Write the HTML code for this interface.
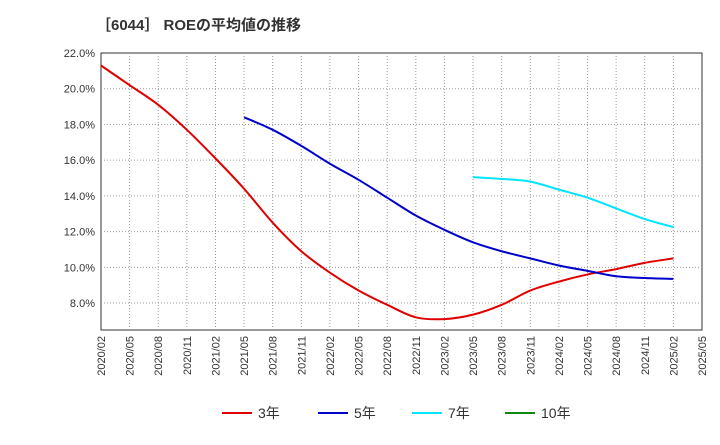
<!DOCTYPE html>
<html><head><meta charset="utf-8"><style>
body{margin:0;background:#fff;font-family:"Liberation Sans","Noto Sans CJK JP",sans-serif;}
</style></head><body>
<svg width="720" height="440" xmlns="http://www.w3.org/2000/svg">
<text x="96" y="30" font-size="15" font-weight="bold" fill="#333" font-family="Liberation Sans, Noto Sans CJK JP, sans-serif">［6044］ ROEの平均値の推移</text>
<g id="grid"></g><g id="axes"></g><g id="series"></g><g id="legend"></g>
</svg>
<script>
const xLabels=["2020/02","2020/05","2020/08","2020/11","2021/02","2021/05","2021/08","2021/11","2022/02","2022/05","2022/08","2022/11","2023/02","2023/05","2023/08","2023/11","2024/02","2024/05","2024/08","2024/11","2025/02","2025/05"];
const yTicks=[8,10,12,14,16,18,20,22];
const s3=[21.3,20.2,19.1,17.7,16.1,14.4,12.5,10.9,9.7,8.7,7.9,7.2,7.1,7.35,7.9,8.7,9.2,9.6,9.9,10.25,10.5];
const s5=[null,null,null,null,null,18.4,17.7,16.8,15.8,14.9,13.9,12.9,12.1,11.4,10.9,10.5,10.1,9.8,9.5,9.4,9.35];
const s7=[null,null,null,null,null,null,null,null,null,null,null,null,null,15.05,14.95,14.8,14.35,13.9,13.3,12.7,12.25];
const L=101,R=702,T=53,B=330,yMin=6.49,yMax=22;
const NS="http://www.w3.org/2000/svg";
const xs=i=>L+i*(R-L)/(xLabels.length-1);
const ys=v=>B-(v-yMin)/(yMax-yMin)*(B-T);
function mk(t,a,p){const e=document.createElementNS(NS,t);for(const k in a)e.setAttribute(k,a[k]);p.appendChild(e);return e;}
const g=document.getElementById('grid'),ax=document.getElementById('axes'),se=document.getElementById('series'),lg=document.getElementById('legend');
mk('rect',{x:L,y:T,width:R-L,height:B-T,fill:'#fff',stroke:'#333','stroke-width':1},g);
xLabels.forEach((lab,i)=>{const x=xs(i);
 if(i>0&&i<xLabels.length-1){const l=mk('line',{x1:x,x2:x,y1:T,y2:B,stroke:'#999','stroke-dasharray':'1,2'},g);
 }
 const t=mk('text',{x:0,y:0,'font-size':11,fill:'#333','text-anchor':'end',transform:`translate(${x+4},${B+6}) rotate(-90)`},ax);
 t.textContent=lab;});
yTicks.forEach(v=>{const y=ys(v);
 if(v<22){const l=mk('line',{x1:L,x2:R,y1:y,y2:y,stroke:'#999','stroke-dasharray':'1,2'},g);
 }
 const t=mk('text',{x:L-6,y:y+4,'font-size':11,fill:'#333','text-anchor':'end'},ax);
 t.textContent=v.toFixed(1)+'%';});
function line(arr,color,name){const pts=[];arr.forEach((v,i)=>{if(v!=null)pts.push([xs(i),ys(v)]);});
 let d='M'+pts[0][0]+','+pts[0][1];
 for(let i=0;i<pts.length-1;i++){const p0=pts[Math.max(0,i-1)],p1=pts[i],p2=pts[i+1],p3=pts[Math.min(pts.length-1,i+2)];
  const c1=[p1[0]+(p2[0]-p0[0])/6,p1[1]+(p2[1]-p0[1])/6],c2=[p2[0]-(p3[0]-p1[0])/6,p2[1]-(p3[1]-p1[1])/6];
  d+=`C${c1[0]},${c1[1]} ${c2[0]},${c2[1]} ${p2[0]},${p2[1]}`;}
 const p=mk('path',{d:d,fill:'none',stroke:color,'stroke-width':2,'stroke-linejoin':'round'},se);
 }
line(s3,'#e00000','series-3yr');line(s5,'#0000cc','series-5yr');line(s7,'#00e5ff','series-7yr');
const leg=[['3年','#e00000',222],['5年','#0000cc',318],['7年','#00e5ff',412],['10年','#118811',505]];
leg.forEach(([n,c,x])=>{const gg=mk('g',{},lg);
 mk('line',{x1:x,x2:x+30,y1:413,y2:413,stroke:c,'stroke-width':2},gg);
 const t=mk('text',{x:x+36,y:418,'font-size':14,fill:'#333'},gg);t.textContent=n;});
</script>
</body></html>
